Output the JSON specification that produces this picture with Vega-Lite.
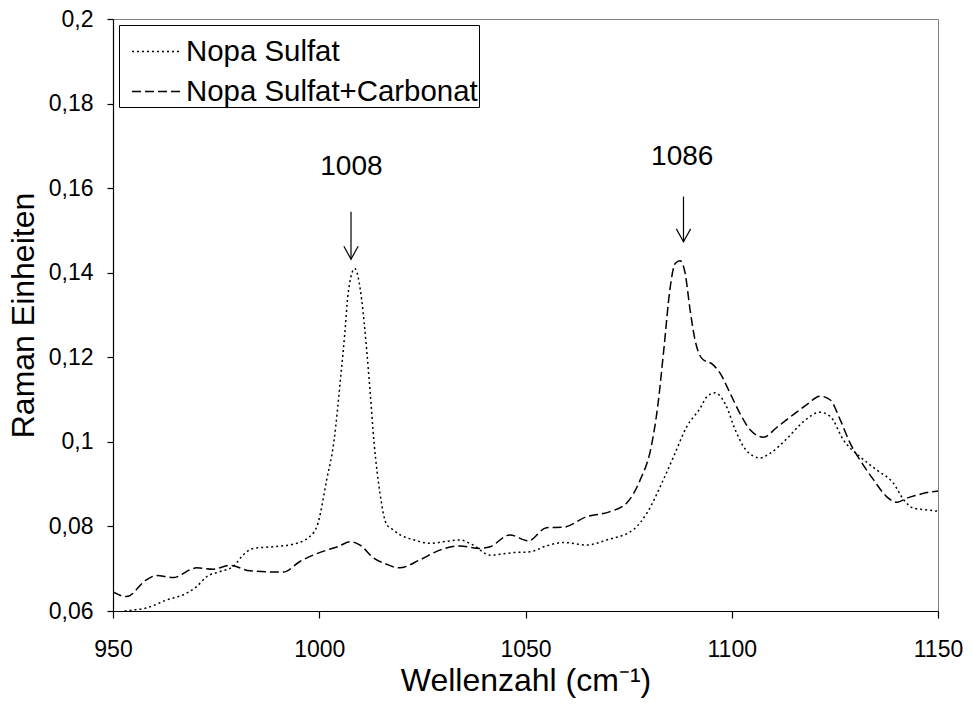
{
  "$schema": "https://vega.github.io/schema/vega-lite/v6.json",
  "width": 825,
  "height": 592,
  "autosize": {"type": "none"},
  "padding": {"left": 113, "top": 19, "right": 34, "bottom": 97},
  "background": "white",
  "config": {
    "font": "Liberation Sans",
    "view": {"stroke": "#808080", "strokeWidth": 1},
    "axis": {"grid": false, "domainColor": "black", "tickColor": "black", "labelColor": "black", "titleColor": "black", "labelFont": "Liberation Sans", "titleFont": "Liberation Sans", "titleFontWeight": "normal", "domainWidth": 1.2, "tickWidth": 1.2}
  },
  "layer": [
    {
      "data": {"values": [
        {"w": 952.8, "v": 0.0600, "s": "Nopa Sulfat"},
        {"w": 954.5, "v": 0.0602, "s": "Nopa Sulfat"},
        {"w": 958, "v": 0.0607, "s": "Nopa Sulfat"},
        {"w": 963, "v": 0.0626, "s": "Nopa Sulfat"},
        {"w": 967.8, "v": 0.0642, "s": "Nopa Sulfat"},
        {"w": 970.2, "v": 0.0657, "s": "Nopa Sulfat"},
        {"w": 972.7, "v": 0.0681, "s": "Nopa Sulfat"},
        {"w": 975.9, "v": 0.0693, "s": "Nopa Sulfat"},
        {"w": 979.1, "v": 0.0705, "s": "Nopa Sulfat"},
        {"w": 981.5, "v": 0.0732, "s": "Nopa Sulfat"},
        {"w": 984, "v": 0.0748, "s": "Nopa Sulfat"},
        {"w": 988.8, "v": 0.0752, "s": "Nopa Sulfat"},
        {"w": 993.7, "v": 0.0758, "s": "Nopa Sulfat"},
        {"w": 997.7, "v": 0.0776, "s": "Nopa Sulfat"},
        {"w": 999.7, "v": 0.0808, "s": "Nopa Sulfat"},
        {"w": 1001.8, "v": 0.0910, "s": "Nopa Sulfat"},
        {"w": 1003.6, "v": 0.1004, "s": "Nopa Sulfat"},
        {"w": 1005.2, "v": 0.1154, "s": "Nopa Sulfat"},
        {"w": 1006.2, "v": 0.1257, "s": "Nopa Sulfat"},
        {"w": 1007, "v": 0.1351, "s": "Nopa Sulfat"},
        {"w": 1008.6, "v": 0.1410, "s": "Nopa Sulfat"},
        {"w": 1010.3, "v": 0.1335, "s": "Nopa Sulfat"},
        {"w": 1011.5, "v": 0.1217, "s": "Nopa Sulfat"},
        {"w": 1012.3, "v": 0.1123, "s": "Nopa Sulfat"},
        {"w": 1013.3, "v": 0.0997, "s": "Nopa Sulfat"},
        {"w": 1014.7, "v": 0.0880, "s": "Nopa Sulfat"},
        {"w": 1016.3, "v": 0.0805, "s": "Nopa Sulfat"},
        {"w": 1017.5, "v": 0.0795, "s": "Nopa Sulfat"},
        {"w": 1019.6, "v": 0.0780, "s": "Nopa Sulfat"},
        {"w": 1023, "v": 0.0768, "s": "Nopa Sulfat"},
        {"w": 1026.9, "v": 0.0760, "s": "Nopa Sulfat"},
        {"w": 1031, "v": 0.0765, "s": "Nopa Sulfat"},
        {"w": 1034.1, "v": 0.0768, "s": "Nopa Sulfat"},
        {"w": 1037.3, "v": 0.0756, "s": "Nopa Sulfat"},
        {"w": 1041.4, "v": 0.0732, "s": "Nopa Sulfat"},
        {"w": 1047, "v": 0.0738, "s": "Nopa Sulfat"},
        {"w": 1051.1, "v": 0.0740, "s": "Nopa Sulfat"},
        {"w": 1055.1, "v": 0.0754, "s": "Nopa Sulfat"},
        {"w": 1059.2, "v": 0.0762, "s": "Nopa Sulfat"},
        {"w": 1064.8, "v": 0.0756, "s": "Nopa Sulfat"},
        {"w": 1069.7, "v": 0.0768, "s": "Nopa Sulfat"},
        {"w": 1076.1, "v": 0.0792, "s": "Nopa Sulfat"},
        {"w": 1079.4, "v": 0.0831, "s": "Nopa Sulfat"},
        {"w": 1083.4, "v": 0.0910, "s": "Nopa Sulfat"},
        {"w": 1085.9, "v": 0.0965, "s": "Nopa Sulfat"},
        {"w": 1089.1, "v": 0.1036, "s": "Nopa Sulfat"},
        {"w": 1092.3, "v": 0.1079, "s": "Nopa Sulfat"},
        {"w": 1094, "v": 0.1107, "s": "Nopa Sulfat"},
        {"w": 1096, "v": 0.1116, "s": "Nopa Sulfat"},
        {"w": 1098.4, "v": 0.1090, "s": "Nopa Sulfat"},
        {"w": 1101, "v": 0.1025, "s": "Nopa Sulfat"},
        {"w": 1103.5, "v": 0.0980, "s": "Nopa Sulfat"},
        {"w": 1106.9, "v": 0.0962, "s": "Nopa Sulfat"},
        {"w": 1109.3, "v": 0.0973, "s": "Nopa Sulfat"},
        {"w": 1113.4, "v": 0.1008, "s": "Nopa Sulfat"},
        {"w": 1117.4, "v": 0.1048, "s": "Nopa Sulfat"},
        {"w": 1121.4, "v": 0.1070, "s": "Nopa Sulfat"},
        {"w": 1123.9, "v": 0.1060, "s": "Nopa Sulfat"},
        {"w": 1127.1, "v": 0.1004, "s": "Nopa Sulfat"},
        {"w": 1131.1, "v": 0.0965, "s": "Nopa Sulfat"},
        {"w": 1135.2, "v": 0.0933, "s": "Nopa Sulfat"},
        {"w": 1139.2, "v": 0.0902, "s": "Nopa Sulfat"},
        {"w": 1141.7, "v": 0.0863, "s": "Nopa Sulfat"},
        {"w": 1144.1, "v": 0.0843, "s": "Nopa Sulfat"},
        {"w": 1147.3, "v": 0.0839, "s": "Nopa Sulfat"},
        {"w": 1150, "v": 0.0836, "s": "Nopa Sulfat"},
        {"w": 950, "v": 0.0645, "s": "Nopa Sulfat+Carbonat"},
        {"w": 953.3, "v": 0.0634, "s": "Nopa Sulfat+Carbonat"},
        {"w": 958, "v": 0.0673, "s": "Nopa Sulfat+Carbonat"},
        {"w": 960.6, "v": 0.0684, "s": "Nopa Sulfat+Carbonat"},
        {"w": 964.5, "v": 0.0679, "s": "Nopa Sulfat+Carbonat"},
        {"w": 970.3, "v": 0.0702, "s": "Nopa Sulfat+Carbonat"},
        {"w": 974.3, "v": 0.0699, "s": "Nopa Sulfat+Carbonat"},
        {"w": 978.4, "v": 0.0708, "s": "Nopa Sulfat+Carbonat"},
        {"w": 983.2, "v": 0.0695, "s": "Nopa Sulfat+Carbonat"},
        {"w": 991.3, "v": 0.0692, "s": "Nopa Sulfat+Carbonat"},
        {"w": 995.3, "v": 0.0717, "s": "Nopa Sulfat+Carbonat"},
        {"w": 1001.8, "v": 0.0744, "s": "Nopa Sulfat+Carbonat"},
        {"w": 1004.5, "v": 0.0752, "s": "Nopa Sulfat+Carbonat"},
        {"w": 1007.5, "v": 0.0764, "s": "Nopa Sulfat+Carbonat"},
        {"w": 1010, "v": 0.0755, "s": "Nopa Sulfat+Carbonat"},
        {"w": 1013.2, "v": 0.0725, "s": "Nopa Sulfat+Carbonat"},
        {"w": 1016, "v": 0.0712, "s": "Nopa Sulfat+Carbonat"},
        {"w": 1019.4, "v": 0.0702, "s": "Nopa Sulfat+Carbonat"},
        {"w": 1024.4, "v": 0.0721, "s": "Nopa Sulfat+Carbonat"},
        {"w": 1029.2, "v": 0.0744, "s": "Nopa Sulfat+Carbonat"},
        {"w": 1034.1, "v": 0.0754, "s": "Nopa Sulfat+Carbonat"},
        {"w": 1038.9, "v": 0.0748, "s": "Nopa Sulfat+Carbonat"},
        {"w": 1041.4, "v": 0.0752, "s": "Nopa Sulfat+Carbonat"},
        {"w": 1046.2, "v": 0.0780, "s": "Nopa Sulfat+Carbonat"},
        {"w": 1050.7, "v": 0.0766, "s": "Nopa Sulfat+Carbonat"},
        {"w": 1055.1, "v": 0.0797, "s": "Nopa Sulfat+Carbonat"},
        {"w": 1059.2, "v": 0.0798, "s": "Nopa Sulfat+Carbonat"},
        {"w": 1064.8, "v": 0.0823, "s": "Nopa Sulfat+Carbonat"},
        {"w": 1070.5, "v": 0.0835, "s": "Nopa Sulfat+Carbonat"},
        {"w": 1074.5, "v": 0.0855, "s": "Nopa Sulfat+Carbonat"},
        {"w": 1077.8, "v": 0.0910, "s": "Nopa Sulfat+Carbonat"},
        {"w": 1080.4, "v": 0.0985, "s": "Nopa Sulfat+Carbonat"},
        {"w": 1082, "v": 0.1080, "s": "Nopa Sulfat+Carbonat"},
        {"w": 1083.6, "v": 0.1225, "s": "Nopa Sulfat+Carbonat"},
        {"w": 1085, "v": 0.1360, "s": "Nopa Sulfat+Carbonat"},
        {"w": 1086.3, "v": 0.1422, "s": "Nopa Sulfat+Carbonat"},
        {"w": 1087.5, "v": 0.1428, "s": "Nopa Sulfat+Carbonat"},
        {"w": 1088.7, "v": 0.1399, "s": "Nopa Sulfat+Carbonat"},
        {"w": 1089.9, "v": 0.1312, "s": "Nopa Sulfat+Carbonat"},
        {"w": 1091.1, "v": 0.1241, "s": "Nopa Sulfat+Carbonat"},
        {"w": 1092.7, "v": 0.1198, "s": "Nopa Sulfat+Carbonat"},
        {"w": 1095.5, "v": 0.1182, "s": "Nopa Sulfat+Carbonat"},
        {"w": 1097.2, "v": 0.1162, "s": "Nopa Sulfat+Carbonat"},
        {"w": 1099.6, "v": 0.1115, "s": "Nopa Sulfat+Carbonat"},
        {"w": 1102, "v": 0.1067, "s": "Nopa Sulfat+Carbonat"},
        {"w": 1104.5, "v": 0.1028, "s": "Nopa Sulfat+Carbonat"},
        {"w": 1107.7, "v": 0.1011, "s": "Nopa Sulfat+Carbonat"},
        {"w": 1110.9, "v": 0.1034, "s": "Nopa Sulfat+Carbonat"},
        {"w": 1115, "v": 0.1065, "s": "Nopa Sulfat+Carbonat"},
        {"w": 1118.2, "v": 0.1088, "s": "Nopa Sulfat+Carbonat"},
        {"w": 1121.4, "v": 0.1108, "s": "Nopa Sulfat+Carbonat"},
        {"w": 1123.9, "v": 0.1099, "s": "Nopa Sulfat+Carbonat"},
        {"w": 1126.3, "v": 0.1052, "s": "Nopa Sulfat+Carbonat"},
        {"w": 1128.7, "v": 0.0997, "s": "Nopa Sulfat+Carbonat"},
        {"w": 1131.1, "v": 0.0957, "s": "Nopa Sulfat+Carbonat"},
        {"w": 1134.4, "v": 0.0910, "s": "Nopa Sulfat+Carbonat"},
        {"w": 1137.6, "v": 0.0870, "s": "Nopa Sulfat+Carbonat"},
        {"w": 1140.1, "v": 0.0857, "s": "Nopa Sulfat+Carbonat"},
        {"w": 1142.5, "v": 0.0867, "s": "Nopa Sulfat+Carbonat"},
        {"w": 1144.9, "v": 0.0874, "s": "Nopa Sulfat+Carbonat"},
        {"w": 1147.3, "v": 0.0880, "s": "Nopa Sulfat+Carbonat"},
        {"w": 1150, "v": 0.0884, "s": "Nopa Sulfat+Carbonat"}
      ]},
      "mark": {"type": "line", "interpolate": "monotone", "stroke": "black", "strokeWidth": 1.5, "clip": true},
      "encoding": {
        "x": {"field": "w", "type": "quantitative",
          "scale": {"domain": [950, 1150], "nice": false, "zero": false},
          "axis": {"values": [950, 1000, 1050, 1100, 1150], "title": "Wellenzahl (cm⁻¹)", "titleFontSize": 32, "labelFontSize": 23, "tickSize": 7, "labelPadding": 20, "titlePadding": 4, "labelFlush": false, "format": "d"}},
        "y": {"field": "v", "type": "quantitative",
          "scale": {"domain": [0.06, 0.2], "nice": false, "zero": false},
          "axis": {"values": [0.06, 0.08, 0.1, 0.12, 0.14, 0.16, 0.18, 0.2], "labelExpr": "replace(format(datum.value, '.2~f'), '.', ',')", "title": "Raman Einheiten", "titleFontSize": 32, "labelFontSize": 23, "tickSize": 6, "labelPadding": 14, "titlePadding": 8, "labelFlush": false}},
        "strokeDash": {"field": "s", "type": "nominal",
          "scale": {"domain": ["Nopa Sulfat", "Nopa Sulfat+Carbonat"], "range": [[2, 3], [9, 4]]},
          "legend": {"orient": "none", "legendX": 6, "legendY": 6, "title": null, "strokeColor": "black", "fillColor": "white", "padding": 1, "symbolOffset": 11, "symbolType": "stroke", "symbolSize": 2400, "symbolStrokeWidth": 1.5, "symbolStrokeColor": "black", "labelFontSize": 29.4, "labelFont": "Liberation Sans", "labelColor": "black", "labelOffset": 4, "rowPadding": -2, "labelLimit": 500}}
      }
    },
    {
      "data": {"values": [
        {"x": 1007.7, "y": 0.1544, "y2": 0.1432},
        {"x": 1088.3, "y": 0.158, "y2": 0.1473}
      ]},
      "mark": {"type": "rule", "stroke": "black", "strokeWidth": 1.2},
      "encoding": {
        "x": {"field": "x", "type": "quantitative"},
        "y": {"field": "y", "type": "quantitative"},
        "y2": {"field": "y2"}
      }
    },
    {
      "data": {"values": [
        {"x": 1007.7, "y": 0.1432},
        {"x": 1088.3, "y": 0.1473}
      ]},
      "mark": {"type": "point", "shape": "M-0.55,-1L0,0L0.55,-1", "filled": false, "stroke": "black", "strokeWidth": 1.2, "size": 676, "opacity": 1},
      "encoding": {
        "x": {"field": "x", "type": "quantitative"},
        "y": {"field": "y", "type": "quantitative"}
      }
    },
    {
      "data": {"values": [
        {"x": 1007.8, "y": 0.1651, "label": "1008"},
        {"x": 1088.0, "y": 0.1674, "label": "1086"}
      ]},
      "mark": {"type": "text", "fontSize": 28, "font": "Liberation Sans", "color": "black", "baseline": "middle", "align": "center"},
      "encoding": {
        "x": {"field": "x", "type": "quantitative"},
        "y": {"field": "y", "type": "quantitative"},
        "text": {"field": "label"}
      }
    }
  ]
}
